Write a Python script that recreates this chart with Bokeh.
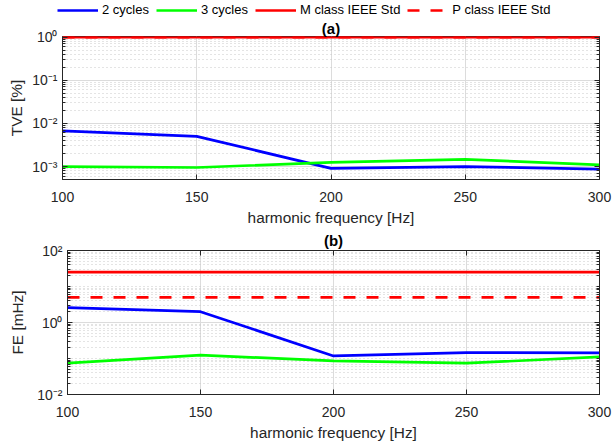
from bokeh.plotting import figure
from bokeh.layouts import column, row
from bokeh.models import (Range1d, FixedTicker, LogAxis, LinearAxis, Legend,
                          LegendItem, CustomJSTickFormatter)
from bokeh.embed import file_html
from bokeh.resources import INLINE

# ---------------- data ----------------
freq = [100, 150, 200, 250, 300]
tve_2cycles = [6.7e-3, 5.0e-3, 0.91e-3, 1.0e-3, 0.87e-3]
tve_3cycles = [1.0e-3, 0.95e-3, 1.25e-3, 1.47e-3, 1.09e-3]
tve_M_class = [1.0, 1.0, 1.0, 1.0, 1.0]
tve_P_class = [1.0, 1.0, 1.0, 1.0, 1.0]
fe_2cycles = [2.6, 2.0, 0.118, 0.146, 0.143]
fe_3cycles = [0.074, 0.124, 0.086, 0.074, 0.111]
fe_M_class = [25, 25, 25, 25, 25]
fe_P_class = [5, 5, 5, 5, 5]
x_ticks = [100, 150, 200, 250, 300]
tve_ticks = [1e-3, 1e-2, 1e-1, 1.0]
fe_ticks = [1e-2, 1.0, 1e2]
series_labels = ["2 cycles", "3 cycles", "M class IEEE Std", "P class IEEE Std"]

FONT = "Liberation Sans"
AX = "#262626"
BLUE, GREEN, RED = "#0000ff", "#00ff00", "#ff0000"
LW = 2.7
DASH = "12 11"

minor_log = [m * 10.0 ** k for k in range(-5, 4) for m in range(1, 10)]

sup_code = """
const sup = {"-":"\u207b","0":"\u2070","1":"\u00b9","2":"\u00b2","3":"\u00b3","4":"\u2074",
             "5":"\u2075","6":"\u2076","7":"\u2077","8":"\u2078","9":"\u2079"};
const e = Math.round(Math.log10(tick));
return "10" + String(e).split("").map(c => sup[c]).join("");
"""


def make_fig(height, y_range, left, top, bottom, title, title_standoff, ylab, yticks,
             ylab_standoff, top_axis):
    p = figure(width=612, height=height, x_range=Range1d(100, 300), y_range=y_range,
               y_axis_type="log", output_backend="svg", toolbar_location=None,
               min_border_left=left, min_border_right=13, min_border_top=top,
               min_border_bottom=bottom)
    p.background_fill_color = "white"
    p.outline_line_color = AX
    p.outline_line_width = 1

    p.title.text = title
    p.title.align = "center"
    p.title.text_font = FONT
    p.title.text_font_size = "15px"
    p.title.text_font_style = "bold"
    p.title.text_color = "#000000"
    p.title.standoff = title_standoff

    xt = FixedTicker(ticks=x_ticks)
    yt = FixedTicker(ticks=yticks, minor_ticks=minor_log)

    xa = p.below[0]
    ya = p.left[0]
    xa.ticker = xt
    ya.ticker = yt
    ya.formatter = CustomJSTickFormatter(code=sup_code)

    for a in (xa, ya):
        a.axis_line_color = AX
        a.major_tick_line_color = AX
        a.minor_tick_line_color = AX
        a.major_tick_in = 5
        a.major_tick_out = 0
        a.minor_tick_in = 3
        a.minor_tick_out = 0
        a.major_label_text_font = FONT
        a.major_label_text_font_size = "14px"
        a.major_label_text_color = AX
        a.axis_label_text_font = FONT
        a.axis_label_text_font_size = "15.4px"
        a.axis_label_text_font_style = "normal"
        a.axis_label_text_color = AX
    xa.minor_tick_line_color = None
    xa.axis_label = "harmonic frequency [Hz]"
    xa.major_label_standoff = 12
    xa.axis_label_standoff = 4
    ya.axis_label = ylab
    ya.major_label_standoff = 5
    ya.axis_label_standoff = ylab_standoff

    # box ticks on top and right (labels not drawn)
    if top_axis:
        ta = LinearAxis(ticker=xt, major_label_text_font_size="1px",
                        major_label_standoff=0, major_label_text_color=None,
                        major_tick_in=5, major_tick_out=0, minor_tick_line_color=None,
                        axis_line_color=AX, major_tick_line_color=AX)
        p.add_layout(ta, "above")
    ra = LogAxis(ticker=yt, major_label_text_font_size="1px", major_label_standoff=0,
                 major_label_text_color=None,
                 major_tick_in=5, major_tick_out=0, minor_tick_in=3, minor_tick_out=0,
                 axis_line_color=AX, major_tick_line_color=AX, minor_tick_line_color=AX)
    p.add_layout(ra, "right")

    # grids
    p.xgrid.ticker = xt
    p.ygrid.ticker = yt
    p.xgrid.grid_line_color = "#dcdcdc"
    p.ygrid.grid_line_color = "#dcdcdc"
    p.ygrid.minor_grid_line_color = "#c8c8c8"
    p.ygrid.minor_grid_line_dash = "1 3"
    return p


# ---------------- header: legend ----------------
head = figure(width=612, height=17, x_range=Range1d(0, 612), y_range=Range1d(0, 17),
              output_backend="svg", toolbar_location=None,
              x_axis_location=None, y_axis_location=None,
              min_border_left=0, min_border_right=0, min_border_top=0,
              min_border_bottom=0)
head.outline_line_color = None
head.xgrid.visible = False
head.ygrid.visible = False
# hidden copies of the series, used only for the legend samples
h1 = head.line(freq, tve_2cycles, line_color=BLUE, line_width=LW, visible=False)
h2 = head.line(freq, tve_3cycles, line_color=GREEN, line_width=LW, visible=False)
h3 = head.line(freq, tve_M_class, line_color=RED, line_width=LW, visible=False)
h4 = head.line(freq, tve_P_class, line_color=RED, line_width=LW, line_dash=DASH,
               visible=False)
legend = Legend(items=[LegendItem(label=lab, renderers=[r])
                       for lab, r in zip(series_labels, [h1, h2, h3, h4])],
                orientation="horizontal", location=(57, 0), padding=0, margin=0,
                spacing=7, label_standoff=4, glyph_width=41, glyph_height=14,
                label_height=14, label_text_font=FONT, label_text_font_size="13px",
                label_text_color="#000000", border_line_alpha=0,
                background_fill_alpha=0, click_policy="none")
head.add_layout(legend, "center")

# ---------------- (a) TVE ----------------
p1 = make_fig(211, Range1d(10 ** -3.3, 1.03), 62, 16, 48, "(a)", 0, "TVE [%]",
              tve_ticks, 4, False)
p1.title.text_line_height = 0.8
p1.line(freq, tve_2cycles, line_color=BLUE, line_width=LW)
p1.line(freq, tve_3cycles, line_color=GREEN, line_width=LW)
p1.line(freq, tve_M_class, line_color=RED, line_width=LW)
p1.line(freq, tve_P_class, line_color=RED, line_width=LW, line_dash=DASH)

# ---------------- (b) FE ----------------
p2 = make_fig(217, Range1d(1e-2, 1e2), 67, 22, 51, "(b)", 3, "FE [mHz]", fe_ticks, 8,
              True)
p2.line(freq, fe_2cycles, line_color=BLUE, line_width=LW)
p2.line(freq, fe_3cycles, line_color=GREEN, line_width=LW)
p2.line(freq, fe_M_class, line_color=RED, line_width=LW)
p2.line(freq, fe_P_class, line_color=RED, line_width=LW, line_dash=DASH)

layout = column(row(head), row(p1), row(p2), spacing=0)
open("out.html", "w").write(file_html(layout, INLINE))
